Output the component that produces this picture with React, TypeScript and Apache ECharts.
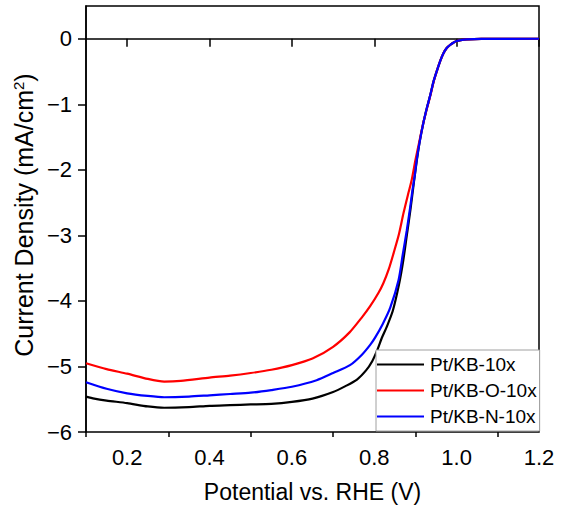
import React, { useEffect, useRef } from "react";
import * as echarts from "echarts";

const seriesNames = ["Pt/KB-10x", "Pt/KB-O-10x", "Pt/KB-N-10x"];
const seriesColors = ["#000000", "#ff0000", "#0000ff"];

const blackV = [0.10, 0.12, 0.15, 0.20, 0.25, 0.29, 0.35, 0.40, 0.45, 0.50, 0.55, 0.60, 0.65, 0.70, 0.73, 0.758, 0.78, 0.795, 0.808, 0.818, 0.83, 0.845, 0.86, 0.87, 0.879, 0.888, 0.896, 0.903, 0.91, 0.919, 0.928, 0.936, 0.944, 0.952, 0.96, 0.968, 0.976, 0.984, 0.992, 1.0, 1.01, 1.025, 1.06, 1.2];
const blackJ = [-5.46, -5.49, -5.52, -5.56, -5.61, -5.63, -5.62, -5.60, -5.59, -5.58, -5.57, -5.54, -5.49, -5.39, -5.30, -5.20, -5.06, -4.92, -4.74, -4.57, -4.40, -4.15, -3.75, -3.40, -3.00, -2.60, -2.20, -1.87, -1.58, -1.29, -1.05, -0.86, -0.65, -0.49, -0.34, -0.22, -0.14, -0.095, -0.06, -0.035, -0.02, -0.01, -0.003, 0];

const redV = [0.10, 0.15, 0.20, 0.25, 0.29, 0.33, 0.40, 0.45, 0.50, 0.55, 0.60, 0.65, 0.70, 0.74, 0.77, 0.79, 0.81, 0.822, 0.835, 0.847, 0.86, 0.871, 0.883, 0.891, 0.90, 0.91, 0.92, 0.928, 0.936, 0.944, 0.952, 0.96, 0.968, 0.976, 0.984, 0.992, 1.0, 1.01, 1.025, 1.06, 1.2];
const redJ = [-4.95, -5.04, -5.11, -5.19, -5.23, -5.22, -5.17, -5.14, -5.10, -5.05, -4.98, -4.88, -4.70, -4.48, -4.25, -4.08, -3.88, -3.73, -3.52, -3.27, -2.98, -2.66, -2.35, -2.15, -1.85, -1.55, -1.26, -1.06, -0.87, -0.66, -0.49, -0.34, -0.22, -0.14, -0.095, -0.06, -0.035, -0.02, -0.01, -0.003, 0];

const blueV = [0.10, 0.15, 0.20, 0.25, 0.29, 0.35, 0.40, 0.45, 0.50, 0.55, 0.60, 0.66, 0.70, 0.741, 0.77, 0.79, 0.802, 0.82, 0.839, 0.859, 0.869, 0.879, 0.887, 0.893, 0.898, 0.903, 0.91, 0.919, 0.928, 0.936, 0.944, 0.952, 0.96, 0.968, 0.976, 0.984, 0.992, 1.0, 1.01, 1.025, 1.06, 1.2];
const blueJ = [-5.24, -5.34, -5.41, -5.45, -5.47, -5.46, -5.44, -5.42, -5.40, -5.36, -5.31, -5.21, -5.10, -4.98, -4.82, -4.67, -4.56, -4.36, -4.10, -3.68, -3.30, -2.92, -2.58, -2.30, -2.10, -1.85, -1.58, -1.29, -1.05, -0.86, -0.65, -0.49, -0.34, -0.22, -0.14, -0.095, -0.06, -0.035, -0.02, -0.01, -0.003, 0];

const xMajorTicks = [0.2, 0.4, 0.6, 0.8, 1.0, 1.2];
const xMinorTicks = [0.1, 0.3, 0.5, 0.7, 0.9, 1.1];
const yTicks = [-6, -5, -4, -3, -2, -1, 0];

const FONT = "'Liberation Sans', Arial, sans-serif";

const pairs = (v: number[], j: number[]) => v.map((x, i) => [x, j[i]]);

export default function App() {
  const ref = useRef<HTMLDivElement>(null);
  useEffect(() => {
    if (!ref.current) return;
    const chart = echarts.init(ref.current, undefined, { renderer: "svg" });
    const datasets = [pairs(blackV, blackJ), pairs(redV, redJ), pairs(blueV, blueJ)];
    chart.setOption({
      animation: false,
      backgroundColor: "#ffffff",
      textStyle: { fontFamily: FONT, color: "#000" },
      grid: {
        left: 86,
        right: 23,
        top: 6,
        bottom: 80,
        show: true,
        borderColor: "#000",
        borderWidth: 1.5,
        backgroundColor: "transparent",
      },
      legend: {
        orient: "vertical",
        left: 376,
        top: 350,
        padding: [5, 3, 5, 1],
        icon: "rect",
        itemWidth: 47,
        itemHeight: 2,
        itemGap: 7,
        borderColor: "#a0a0a0",
        borderWidth: 1,
        backgroundColor: "#ffffff",
        textStyle: { fontFamily: FONT, fontSize: 19, color: "#000", lineHeight: 19, padding: [0, 0, 0, 1] },
        data: seriesNames,
      },
      xAxis: [
        {
          type: "value",
          min: 0.1,
          max: 1.2,
          position: "bottom",
          name: "Potential vs. RHE (V)",
          nameLocation: "middle",
          nameGap: 48,
          nameTextStyle: { fontFamily: FONT, fontSize: 23, color: "#000" },
          axisLine: { show: true, lineStyle: { color: "#000", width: 1.5 } },
          axisTick: { show: true, inside: false, length: 8, customValues: xMajorTicks, lineStyle: { color: "#000", width: 1.5 } },
          axisLabel: {
            show: true,
            customValues: xMajorTicks,
            margin: 14,
            fontFamily: FONT,
            fontSize: 22,
            color: "#000",
            formatter: (v: number) => v.toFixed(1),
          },
          splitLine: { show: false },
        },
        {
          type: "value",
          min: 0.1,
          max: 1.2,
          position: "bottom",
          axisLine: { show: false },
          axisTick: { show: true, inside: false, length: 5, customValues: xMinorTicks, lineStyle: { color: "#000", width: 1.5 } },
          axisLabel: { show: false },
          splitLine: { show: false },
        },
      ],
      yAxis: {
        type: "value",
        min: -6,
        max: 0.5,
        name: "{t|Current Density (mA/cm}{s|2}{t|)}",
        nameLocation: "middle",
        nameGap: 45,
        nameRotate: 90,
        nameTextStyle: {
          padding: [0, 0, 0, 8],
          rich: {
            t: { fontFamily: FONT, fontSize: 25, color: "#000" },
            s: { fontFamily: FONT, fontSize: 15, color: "#000", verticalAlign: "top", lineHeight: 15 },
          },
        },
        axisLine: { show: true, lineStyle: { color: "#000", width: 1.5 } },
        axisTick: { show: true, inside: false, length: 8, customValues: yTicks, lineStyle: { color: "#000", width: 1.5 } },
        axisLabel: {
          show: true,
          customValues: yTicks,
          margin: 14,
          fontFamily: FONT,
          fontSize: 22,
          color: "#000",
          formatter: (v: number) => (v < 0 ? "\u2212" + Math.abs(v) : String(v)),
        },
        splitLine: { show: false },
      },
      series: seriesNames.map((name, i) => ({
        name,
        type: "line",
        xAxisIndex: 0,
        data: datasets[i],
        showSymbol: false,
        symbol: "none",
        smooth: 0.25,
        color: seriesColors[i],
        lineStyle: { color: seriesColors[i], width: 2.2 },
        z: 2 + i,
      })),
    });
    return () => chart.dispose();
  }, []);
  return <div ref={ref} style={{ width: 562, height: 512, position: "absolute", left: 0, top: 0 }} />;
}
